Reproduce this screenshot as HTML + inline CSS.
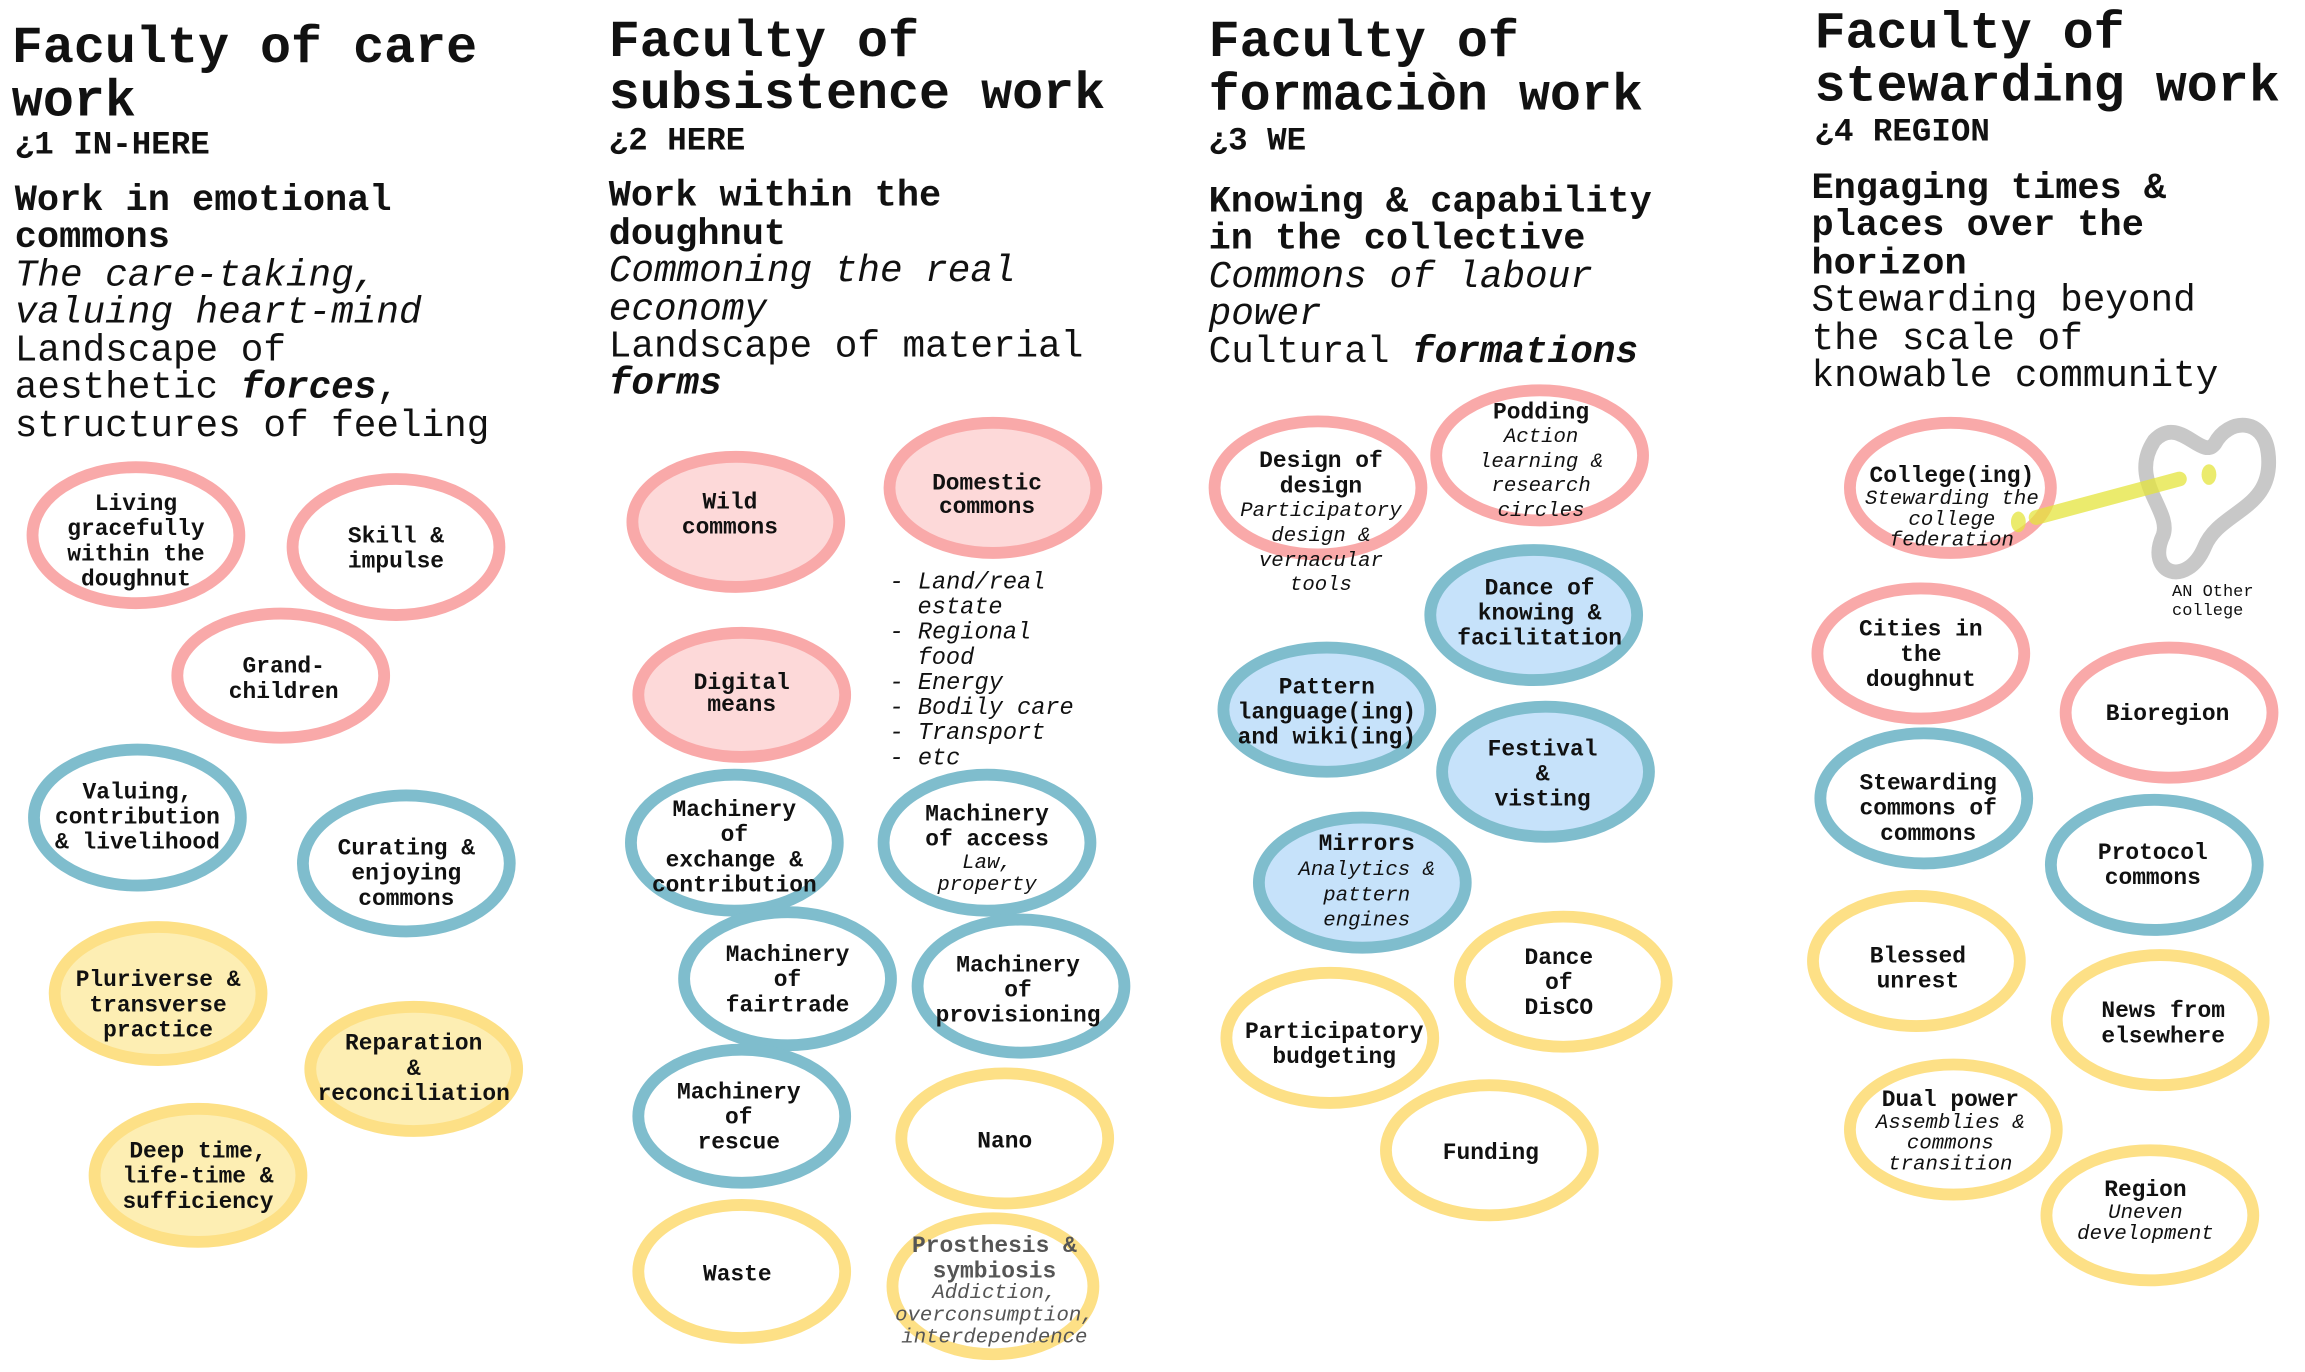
<!DOCTYPE html>
<html><head><meta charset="utf-8"><style>
html,body{margin:0;padding:0;background:#fff;}
svg{display:block}
text{font-family:"Liberation Mono","DejaVu Sans Mono",monospace;fill:#111}
.h{font-size:35px;font-weight:bold}
.s{font-size:22px;font-weight:bold}
.b{font-size:25px;font-weight:bold}
.n{font-size:25.5px}
.i{font-size:25.5px;font-style:italic}
.c{font-size:15.5px;font-weight:bold;text-anchor:middle}
.ci{font-size:14px;font-style:italic;text-anchor:middle}
.l{font-size:16px;font-style:italic}
.pk{fill:#fff;stroke:#f9a9a9;stroke-width:8}
.pkf{fill:#fdd9d9;stroke:#f9a9a9;stroke-width:8}
.bl{fill:#fff;stroke:#7fbdcd;stroke-width:8}
.blf{fill:#c6e2fa;stroke:#7fbdcd;stroke-width:8}
.ye{fill:#fff;stroke:#fde086;stroke-width:8}
.yef{fill:#fdeeb3;stroke:#fde086;stroke-width:8}
</style></head><body>
<svg width="2305" height="1372" viewBox="0 0 1560 928" preserveAspectRatio="none" xmlns="http://www.w3.org/2000/svg">
<!-- column 1 -->
<text class="h" x="8" y="42">Faculty of care</text>
<text class="h" x="8" y="78">work</text>
<text class="s" x="10" y="104">¿1 IN-HERE</text>
<text class="b" x="10" y="142">Work in emotional</text>
<text class="b" x="10" y="167">commons</text>
<text class="i" x="10" y="193">The care-taking,</text>
<text class="i" x="10" y="218">valuing heart-mind</text>
<text class="n" x="10" y="244">Landscape of</text>
<text class="n" x="10" y="269">aesthetic <tspan font-weight="bold" font-style="italic">forces</tspan>,</text>
<text class="n" x="10" y="295">structures of feeling</text>

<!-- column 2 -->
<text class="h" x="412" y="38">Faculty of</text>
<text class="h" x="412" y="73">subsistence work</text>
<text class="s" x="412" y="101">¿2 HERE</text>
<text class="b" x="412" y="139">Work within the</text>
<text class="b" x="412" y="165">doughnut</text>
<text class="i" x="412" y="190">Commoning the real</text>
<text class="i" x="412" y="216">economy</text>
<text class="n" x="412" y="241">Landscape of material</text>
<text class="n" x="412" y="266" font-weight="bold" font-style="italic">forms</text>

<!-- column 3 -->
<text class="h" x="818" y="38">Faculty of</text>
<text class="h" x="818" y="74">formaciòn work</text>
<text class="s" x="818" y="101">¿3 WE</text>
<text class="b" x="818" y="143">Knowing &amp; capability</text>
<text class="b" x="818" y="168">in the collective</text>
<text class="i" x="818" y="194">Commons of labour</text>
<text class="i" x="818" y="219">power</text>
<text class="n" x="818" y="245">Cultural <tspan font-weight="bold" font-style="italic">formations</tspan></text>

<!-- column 4 -->
<text class="h" x="1228" y="32">Faculty of</text>
<text class="h" x="1228" y="68">stewarding work</text>
<text class="s" x="1228" y="95">¿4 REGION</text>
<text class="b" x="1226" y="134">Engaging times &amp;</text>
<text class="b" x="1226" y="159">places over the</text>
<text class="b" x="1226" y="185">horizon</text>
<text class="n" x="1226" y="210">Stewarding beyond</text>
<text class="n" x="1226" y="236">the scale of</text>
<text class="n" x="1226" y="261">knowable community</text>

<!-- col1 circles -->
<ellipse class="pk" cx="92" cy="362" rx="70" ry="46"/>
<text class="c" x="92" y="345">Living</text><text class="c" x="92" y="362">gracefully</text><text class="c" x="92" y="379">within the</text><text class="c" x="92" y="396">doughnut</text>
<ellipse class="pk" cx="268" cy="370" rx="70" ry="46"/>
<text class="c" x="268" y="367">Skill &amp;</text><text class="c" x="268" y="384">impulse</text>
<ellipse class="pk" cx="190" cy="457" rx="70" ry="42"/>
<text class="c" x="192" y="455">Grand-</text><text class="c" x="192" y="472">children</text>
<ellipse class="bl" cx="93" cy="553" rx="70" ry="46"/>
<text class="c" x="93" y="540">Valuing,</text><text class="c" x="93" y="557">contribution</text><text class="c" x="93" y="574">&amp; livelihood</text>
<ellipse class="bl" cx="275" cy="584" rx="70" ry="46"/>
<text class="c" x="275" y="578">Curating &amp;</text><text class="c" x="275" y="595">enjoying</text><text class="c" x="275" y="612">commons</text>
<ellipse class="yef" cx="107" cy="672" rx="70" ry="45"/>
<text class="c" x="107" y="667">Pluriverse &amp;</text><text class="c" x="107" y="684">transverse</text><text class="c" x="107" y="701">practice</text>
<ellipse class="yef" cx="280" cy="723" rx="70" ry="42"/>
<text class="c" x="280" y="710">Reparation</text><text class="c" x="280" y="727">&amp;</text><text class="c" x="280" y="744">reconciliation</text>
<ellipse class="yef" cx="134" cy="795" rx="70" ry="45"/>
<text class="c" x="134" y="783">Deep time,</text><text class="c" x="134" y="800">life-time &amp;</text><text class="c" x="134" y="817">sufficiency</text>

<!-- col2 circles -->
<ellipse class="pkf" cx="498" cy="353" rx="70" ry="44"/>
<text class="c" x="494" y="344">Wild</text><text class="c" x="494" y="361">commons</text>
<ellipse class="pkf" cx="672" cy="330" rx="70" ry="44"/>
<text class="c" x="668" y="331">Domestic</text><text class="c" x="668" y="347">commons</text>
<ellipse class="pkf" cx="502" cy="470" rx="70" ry="42"/>
<text class="c" x="502" y="466">Digital</text><text class="c" x="502" y="481">means</text>
<text class="l" x="602" y="398">- Land/real</text>
<text class="l" x="621" y="415">estate</text>
<text class="l" x="602" y="432">- Regional</text>
<text class="l" x="621" y="449">food</text>
<text class="l" x="602" y="466">- Energy</text>
<text class="l" x="602" y="483">- Bodily care</text>
<text class="l" x="602" y="500">- Transport</text>
<text class="l" x="602" y="517">- etc</text>
<ellipse class="bl" cx="497" cy="570" rx="70" ry="46"/>
<text class="c" x="497" y="552">Machinery</text><text class="c" x="497" y="569">of</text><text class="c" x="497" y="586">exchange &amp;</text><text class="c" x="497" y="603">contribution</text>
<ellipse class="bl" cx="668" cy="570" rx="70" ry="46"/>
<text class="c" x="668" y="555">Machinery</text><text class="c" x="668" y="572">of access</text><text class="ci" x="668" y="587">Law,</text><text class="ci" x="668" y="602">property</text>
<ellipse class="bl" cx="533" cy="662" rx="70" ry="45"/>
<text class="c" x="533" y="650">Machinery</text><text class="c" x="533" y="667">of</text><text class="c" x="533" y="684">fairtrade</text>
<ellipse class="bl" cx="691" cy="667" rx="70" ry="45"/>
<text class="c" x="689" y="657">Machinery</text><text class="c" x="689" y="674">of</text><text class="c" x="689" y="691">provisioning</text>
<ellipse class="bl" cx="502" cy="755" rx="70" ry="45"/>
<text class="c" x="500" y="743">Machinery</text><text class="c" x="500" y="760">of</text><text class="c" x="500" y="777">rescue</text>
<ellipse class="ye" cx="680" cy="770" rx="70" ry="44"/>
<text class="c" x="680" y="776">Nano</text>
<ellipse class="ye" cx="502" cy="860" rx="70" ry="45"/>
<text class="c" x="499" y="866">Waste</text>
<ellipse class="ye" cx="672" cy="870" rx="68" ry="46"/>
<text class="c" x="673" y="847" style="fill:#555">Prosthesis &amp;</text><text class="c" x="673" y="864" style="fill:#555">symbiosis</text>
<text class="ci" x="673" y="878" style="fill:#555">Addiction,</text><text class="ci" x="673" y="893" style="fill:#555">overconsumption,</text><text class="ci" x="673" y="908" style="fill:#555">interdependence</text>

<!-- col3 circles -->
<ellipse class="pk" cx="892" cy="330" rx="70" ry="45"/>
<ellipse class="pk" cx="1042" cy="308" rx="70" ry="44"/>
<text class="c" x="894" y="316">Design of</text><text class="c" x="894" y="333">design</text>
<text class="ci" x="894" y="349" font-size="15">Participatory</text><text class="ci" x="894" y="366">design &amp;</text><text class="ci" x="894" y="383">vernacular</text><text class="ci" x="894" y="399">tools</text>
<text class="c" x="1043" y="283">Podding</text><text class="ci" x="1043" y="299">Action</text><text class="ci" x="1043" y="316">learning &amp;</text><text class="ci" x="1043" y="332">research</text><text class="ci" x="1043" y="349">circles</text>
<ellipse class="blf" cx="1038" cy="416" rx="70" ry="44"/>
<text class="c" x="1042" y="402">Dance of</text><text class="c" x="1042" y="419">knowing &amp;</text><text class="c" x="1042" y="436">facilitation</text>
<ellipse class="blf" cx="898" cy="480" rx="70" ry="42"/>
<text class="c" x="898" y="469">Pattern</text><text class="c" x="898" y="486">language(ing)</text><text class="c" x="898" y="503">and wiki(ing)</text>
<ellipse class="blf" cx="1046" cy="522" rx="70" ry="44"/>
<text class="c" x="1044" y="511">Festival</text><text class="c" x="1044" y="528">&amp;</text><text class="c" x="1044" y="545">visting</text>
<ellipse class="blf" cx="922" cy="597" rx="70" ry="44"/>
<text class="c" x="925" y="575">Mirrors</text><text class="ci" x="925" y="592" font-size="15">Analytics &amp;</text><text class="ci" x="925" y="609" font-size="15">pattern</text><text class="ci" x="925" y="626" font-size="15">engines</text>
<ellipse class="ye" cx="1058" cy="664" rx="70" ry="44"/>
<text class="c" x="1055" y="652">Dance</text><text class="c" x="1055" y="669">of</text><text class="c" x="1055" y="686">DisCO</text>
<ellipse class="ye" cx="900" cy="702" rx="70" ry="44"/>
<text class="c" x="903" y="702">Participatory</text><text class="c" x="903" y="719">budgeting</text>
<ellipse class="ye" cx="1008" cy="778" rx="70" ry="44"/>
<text class="c" x="1009" y="784">Funding</text>

<!-- col4 -->
<path d="M1458,298 C1440,325 1470,345 1464,362 C1452,388 1480,398 1492,370 C1502,345 1540,345 1535,306 C1532,282 1508,283 1499,300 C1490,312 1475,280 1458,298 Z" fill="none" stroke="#c8c8c8" stroke-width="10"/>
<ellipse class="pk" cx="1320" cy="330" rx="68" ry="44"/>
<text class="c" x="1321" y="326">College(ing)</text><text class="ci" x="1321" y="341" font-size="13">Stewarding the</text><text class="ci" x="1321" y="355" font-size="13">college</text><text class="ci" x="1321" y="369" font-size="13">federation</text>
<line x1="1378" y1="350" x2="1475" y2="324" stroke="#e4e43c" stroke-opacity="0.75" stroke-width="10" stroke-linecap="round"/>
<ellipse cx="1366" cy="353" rx="5" ry="7" fill="#e4e43c" fill-opacity="0.75"/>
<ellipse cx="1495" cy="321" rx="5" ry="7" fill="#e4e43c" fill-opacity="0.75"/>
<text x="1470" y="403" font-size="11.5">AN Other</text><text x="1470" y="416" font-size="11.5">college</text>
<ellipse class="pk" cx="1300" cy="442" rx="70" ry="44"/>
<text class="c" x="1300" y="430">Cities in</text><text class="c" x="1300" y="447">the</text><text class="c" x="1300" y="464">doughnut</text>
<ellipse class="pk" cx="1468" cy="482" rx="70" ry="44"/>
<text class="c" x="1467" y="487">Bioregion</text>
<ellipse class="bl" cx="1302" cy="540" rx="70" ry="44"/>
<text class="c" x="1305" y="534">Stewarding</text><text class="c" x="1305" y="551">commons of</text><text class="c" x="1305" y="568">commons</text>
<ellipse class="bl" cx="1458" cy="585" rx="70" ry="44"/>
<text class="c" x="1457" y="581">Protocol</text><text class="c" x="1457" y="598">commons</text>
<ellipse class="ye" cx="1297" cy="650" rx="70" ry="44"/>
<text class="c" x="1298" y="651">Blessed</text><text class="c" x="1298" y="668">unrest</text>
<ellipse class="ye" cx="1462" cy="690" rx="70" ry="44"/>
<text class="c" x="1464" y="688">News from</text><text class="c" x="1464" y="705">elsewhere</text>
<ellipse class="ye" cx="1322" cy="764" rx="70" ry="44"/>
<text class="c" x="1320" y="748">Dual power</text><text class="ci" x="1320" y="763" font-size="13">Assemblies &amp;</text><text class="ci" x="1320" y="777" font-size="13">commons</text><text class="ci" x="1320" y="791" font-size="13">transition</text>
<ellipse class="ye" cx="1455" cy="822" rx="70" ry="44"/>
<text class="c" x="1452" y="809">Region</text><text class="ci" x="1452" y="824" font-size="13">Uneven</text><text class="ci" x="1452" y="838" font-size="13">development</text>
</svg>
</body></html>
